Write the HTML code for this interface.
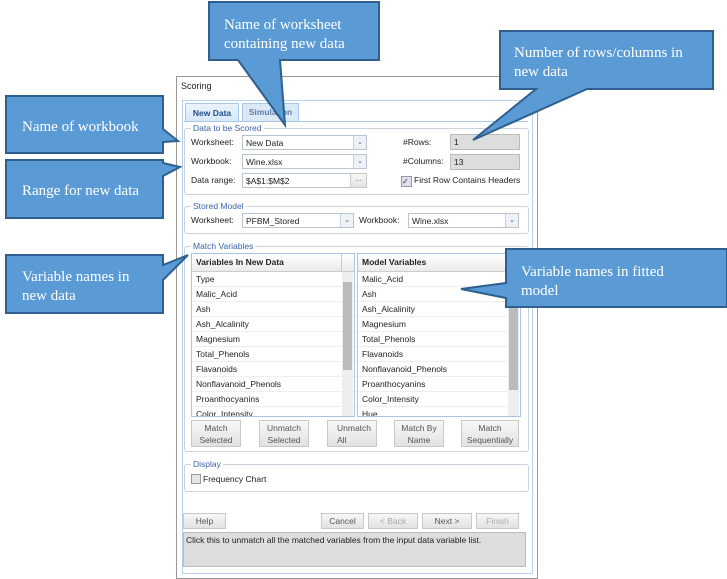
<!DOCTYPE html>
<html><head><meta charset="utf-8"><style>
body{margin:0;width:727px;height:579px;background:#fff;position:relative;overflow:hidden;font-family:"Liberation Sans",sans-serif;font-size:8.5px;color:#222}
.a{position:absolute}
.grp{position:absolute;border:1px solid #c9d3de;border-radius:3px}
.gl{position:absolute;top:-6px;left:6px;background:#fff;color:#3a63a8;padding:0 2px;font-size:8.5px}
.in{position:absolute;border:1px solid #b9c4d0;background:#fff;height:15px;line-height:15px;padding-left:3px;box-sizing:border-box}
.dd{position:absolute;right:0;top:0;width:12px;height:13px;border-left:1px solid #c8d0da;background:#eef2f6;color:#3a5a8a;font-size:7px;text-align:center;line-height:13px}
.ro{background:#ddd;border-color:#bbb}
.btn{position:absolute;border:1px solid #c8c8c8;background:linear-gradient(#f7f7f7,#e2e2e2);text-align:center;box-sizing:border-box;color:#555}
.list{position:absolute;border:1px solid #a9c4e4;background:#fff;overflow:hidden}
.row{height:14px;line-height:15px;padding-left:4px;border-bottom:1px solid #eee}
.hd{height:17px;line-height:17px;font-weight:bold;padding-left:4px;background:linear-gradient(#fff,#ebebeb);border-bottom:1px solid #ccc}
</style></head><body>
<div class="a" style="left:176px;top:76px;width:360px;height:501px;border:1px solid #999;background:#fff"></div>
<div class="a" style="left:181px;top:81px;font-size:9px">Scoring</div>
<div class="a" style="left:182px;top:100px;width:349px;height:472px;border:1px solid #b8d2ee"></div>
<div class="a" style="left:185px;top:103px;width:52px;height:18px;border:1px solid #a9c7e8;border-bottom:none;background:linear-gradient(#eaf3fc,#d7e8f8);font-weight:bold;color:#1f4f8f;text-align:center;line-height:18px">New Data</div>
<div class="a" style="left:242px;top:103px;width:55px;height:17px;border:1px solid #a9c7e8;background:#dbe8f6;font-weight:bold;color:#5a7eaa;text-align:center;line-height:17px">Simulation</div>
<div class="a" style="left:184px;top:121px;width:344px;height:1px;background:#a9c7e8"></div>

<div class="grp" style="left:184px;top:128px;width:343px;height:65px"><span class="gl">Data to be Scored</span></div>
<div class="a" style="left:191px;top:137px">Worksheet:</div>
<div class="in" style="left:242px;top:135px;width:125px">New Data<span class="dd">&#8964;</span></div>
<div class="a" style="left:191px;top:156px">Workbook:</div>
<div class="in" style="left:242px;top:154px;width:125px">Wine.xlsx<span class="dd">&#8964;</span></div>
<div class="a" style="left:191px;top:175px">Data range:</div>
<div class="in" style="left:242px;top:173px;width:109px">$A$1:$M$2</div>
<div class="btn" style="left:350px;top:173px;width:17px;height:15px;font-size:7px;line-height:12px">...</div>
<div class="a" style="left:403px;top:137px">#Rows:</div>
<div class="in ro" style="left:450px;top:134px;width:70px;height:16px">1</div>
<div class="a" style="left:403px;top:156px">#Columns:</div>
<div class="in ro" style="left:450px;top:154px;width:70px;height:16px">13</div>
<div class="a" style="left:401px;top:176px;width:9px;height:9px;border:1px solid #999;background:#dde;font-size:8px;line-height:9px;color:#335">&#10003;</div>
<div class="a" style="left:414px;top:175px">First Row Contains Headers</div>

<div class="grp" style="left:184px;top:206px;width:343px;height:26px"><span class="gl">Stored Model</span></div>
<div class="a" style="left:191px;top:215px">Worksheet:</div>
<div class="in" style="left:242px;top:213px;width:112px">PFBM_Stored<span class="dd">&#8964;</span></div>
<div class="a" style="left:359px;top:215px">Workbook:</div>
<div class="in" style="left:408px;top:213px;width:111px">Wine.xlsx<span class="dd">&#8964;</span></div>

<div class="grp" style="left:184px;top:246px;width:343px;height:204px"><span class="gl">Match Variables</span></div>
<div class="list" style="left:191px;top:253px;width:162px;height:162px">
<div class="hd">Variables In New Data</div>
<div class="row">Type</div><div class="row">Malic_Acid</div><div class="row">Ash</div><div class="row">Ash_Alcalinity</div><div class="row">Magnesium</div><div class="row">Total_Phenols</div><div class="row">Flavanoids</div><div class="row">Nonflavanoid_Phenols</div><div class="row">Proanthocyanins</div><div class="row">Color_Intensity</div>
<div class="a" style="left:149px;top:0;width:1px;height:17px;background:#ccc"></div>
<div class="a" style="left:150px;top:18px;width:11px;height:144px;background:#eee"></div>
<div class="a" style="left:151px;top:28px;width:9px;height:88px;background:#bbb"></div>
</div>
<div class="list" style="left:357px;top:253px;width:162px;height:162px">
<div class="hd">Model Variables</div>
<div class="row">Malic_Acid</div><div class="row">Ash</div><div class="row">Ash_Alcalinity</div><div class="row">Magnesium</div><div class="row">Total_Phenols</div><div class="row">Flavanoids</div><div class="row">Nonflavanoid_Phenols</div><div class="row">Proanthocyanins</div><div class="row">Color_Intensity</div><div class="row">Hue</div>
<div class="a" style="left:150px;top:18px;width:11px;height:144px;background:#eee"></div>
<div class="a" style="left:151px;top:28px;width:9px;height:108px;background:#bbb"></div>
</div>
<div class="btn" style="left:191px;top:420px;width:50px;height:27px;line-height:12px;padding-top:1px">Match<br>Selected</div>
<div class="btn" style="left:259px;top:420px;width:50px;height:27px;line-height:12px;padding-top:1px">Unmatch<br>Selected</div>
<div class="btn" style="left:327px;top:420px;width:50px;height:27px;line-height:12px;padding-top:1px;text-align:left;padding-left:9px">Unmatch<br>All</div>
<div class="btn" style="left:394px;top:420px;width:50px;height:27px;line-height:12px;padding-top:1px">Match By<br>Name</div>
<div class="btn" style="left:461px;top:420px;width:58px;height:27px;line-height:12px;padding-top:1px">Match<br>Sequentially</div>

<div class="grp" style="left:184px;top:464px;width:343px;height:26px"><span class="gl">Display</span></div>
<div class="a" style="left:191px;top:474px;width:8px;height:8px;border:1px solid #999;background:#e6e6e6"></div>
<div class="a" style="left:203px;top:474px">Frequency Chart</div>

<div class="btn" style="left:183px;top:513px;width:43px;height:16px;line-height:14px">Help</div>
<div class="btn" style="left:321px;top:513px;width:43px;height:16px;line-height:14px">Cancel</div>
<div class="btn" style="left:368px;top:513px;width:50px;height:16px;line-height:14px;color:#aaa">&lt; Back</div>
<div class="btn" style="left:422px;top:513px;width:50px;height:16px;line-height:14px">Next &gt;</div>
<div class="btn" style="left:476px;top:513px;width:43px;height:16px;line-height:14px;color:#aaa">Finish</div>
<div class="a" style="left:183px;top:532px;width:343px;height:35px;background:#ddd;border:1px solid #bbb;padding:2px;box-sizing:border-box">Click this to unmatch all the matched variables from the input data variable list.</div>

<svg class="a" style="left:0;top:0" width="727" height="579">
<g fill="#5b9bd5" stroke="#2e5f8e" stroke-width="2" stroke-linejoin="miter">
<path d="M209,2 H379 V60 H280 L285,125 L238,60 H209 Z"/>
<path d="M500,31 H713 V89 H587 L473,140 L536,89 H500 Z"/>
<path d="M6,96 H163 V129 L178,141 L163,142 V153 H6 Z"/>
<path d="M6,160 H163 V163 L180,167 L163,176 V218 H6 Z"/>
<path d="M6,255 H163 V265 L188,255 L163,280 V313 H6 Z"/>
<path d="M506,249 H727 V307 H506 V298 L461,289 L506,283 Z"/>
</g>
<g fill="#fff" font-family="Liberation Serif, serif" font-size="15">
<text x="224" y="29">Name of worksheet</text>
<text x="224" y="48">containing new data</text>
<text x="514" y="57">Number of rows/columns in</text>
<text x="514" y="76">new data</text>
<text x="22" y="131">Name of workbook</text>
<text x="22" y="195">Range for new data</text>
<text x="22" y="281">Variable names in</text>
<text x="22" y="300">new data</text>
<text x="521" y="276">Variable names in fitted</text>
<text x="521" y="295">model</text>
</g>
</svg>
</body></html>
